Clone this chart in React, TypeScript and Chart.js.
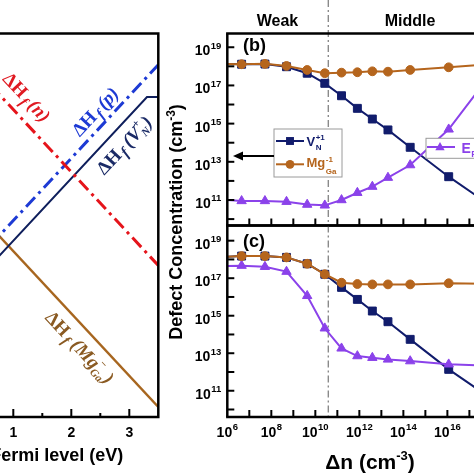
import React, { useEffect, useRef } from "react";
import { Chart, registerables } from "chart.js";

Chart.register(...registerables);

// ---------- Panel (a): formation enthalpy vs Fermi level (eV) ----------
const fermiEnds = [0, 3.5];
const dHfN = [5.93, 2.43];
const dHfP = [2.15, 5.65];
const fermiVN = [0, 3.305, 3.5];
const dHfVN = [1.826, 5.13, 5.13];
const dHfMg = [3.66, 0.16];
const fermiTicks = [0, 1, 2, 3];
const fermiMinorTicks = [0.5, 1.5, 2.5];

// ---------- Panels (b), (c): log10 concentration vs log10 Δn ----------
const logDn = [6.0, 6.65, 7.71, 8.69, 9.63, 10.43, 11.19, 11.91, 12.59, 13.3, 14.31, 16.06, 17.6];
const vnB = [18.12, 18.11, 18.12, 17.98, 17.64, 17.11, 16.46, 15.8, 15.24, 14.67, 13.76, 12.22, 11.0];
const mgB = [18.12, 18.11, 18.13, 18.02, 17.81, 17.64, 17.67, 17.69, 17.74, 17.72, 17.81, 17.95, 18.08];
const efB = [11.0, 10.95, 10.95, 10.91, 10.76, 10.72, 11.0, 11.38, 11.7, 12.17, 12.83, 14.7, 17.03];
const vnC = [18.15, 18.18, 18.18, 18.11, 17.77, 17.21, 16.51, 15.87, 15.25, 14.68, 13.74, 12.14, 10.9];
const mgC = [18.15, 18.18, 18.18, 18.11, 17.77, 17.21, 16.76, 16.69, 16.67, 16.67, 16.67, 16.73, 16.7];
const efC = [17.65, 17.67, 17.61, 17.35, 16.06, 14.33, 13.26, 12.85, 12.76, 12.67, 12.58, 12.41, 12.35];
const yTickLabelExps = [11, 13, 15, 17, 19];
const xTickLabelExps = [6, 8, 10, 12, 14, 16, 18];
const boundaryLogDn = 10.59;

const SANS = '"Liberation Sans", Arial, Helvetica, sans-serif';
const SERIF = '"Liberation Serif", "Times New Roman", serif';
const NAVY = "#111c6c";
const BROWN = "#b5651d";
const PURPLE = "#8b42ea";
const RED_A = "#e5141b";
const BLUE_A = "#1d3ad4";
const NAVY_A = "#0f1f5c";
const BROWN_A = "#a7661f";

const RIGHT_LEFT = 160; // page x of right canvases
const LEFT_LEFT = -60; // page x of left canvas

type Seg = { t: string; font: string; dy?: number; dx?: number; over?: string; overDy?: number; color?: string };

function richWidth(ctx: any, segs: Seg[]) {
  let w = 0;
  for (const s of segs) {
    ctx.font = s.font;
    let sw = ctx.measureText(s.t).width;
    if (s.over) sw = Math.max(sw, ctx.measureText(s.over).width);
    w += sw + (s.dx || 0);
  }
  return w;
}

function drawRich(ctx: any, segs: Seg[], x: number, y: number, align: string, color: string) {
  const w = richWidth(ctx, segs);
  let cx = align === "left" ? x : align === "center" ? x - w / 2 : x - w;
  ctx.textAlign = "left";
  ctx.textBaseline = "alphabetic";
  for (const s of segs) {
    ctx.font = s.font;
    ctx.fillStyle = s.color || color;
    cx += s.dx || 0;
    ctx.fillText(s.t, cx, y + (s.dy || 0));
    let sw = ctx.measureText(s.t).width;
    if (s.over) {
      ctx.fillText(s.over, cx, y + (s.overDy || 0));
      sw = Math.max(sw, ctx.measureText(s.over).width);
    }
    cx += sw;
  }
}

function drawMarker(ctx: any, style: string, x: number, y: number, r: number, color: string) {
  ctx.save();
  ctx.fillStyle = color;
  ctx.beginPath();
  if (style === "rect") {
    const s = r * Math.SQRT2;
    ctx.rect(x - s / 2, y - s / 2, s, s);
  } else if (style === "circle") {
    ctx.arc(x, y, r, 0, Math.PI * 2);
  } else {
    ctx.moveTo(x, y - r);
    ctx.lineTo(x + r * 0.866, y + r * 0.5);
    ctx.lineTo(x - r * 0.866, y + r * 0.5);
    ctx.closePath();
  }
  ctx.fill();
  ctx.restore();
}

function drawPow(ctx: any, exp: number, x: number, baseY: number, align: string) {
  const segs: Seg[] = [
    { t: "10", font: `bold 14px ${SANS}` },
    { t: String(exp), font: `bold 9.5px ${SANS}`, dy: -6.5, dx: 0.5 },
  ];
  drawRich(ctx, segs, x, baseY, align, "#000");
}

function line(ctx: any, x1: number, y1: number, x2: number, y2: number) {
  ctx.beginPath();
  ctx.moveTo(x1, y1);
  ctx.lineTo(x2, y2);
  ctx.stroke();
}

// ---------------- Left panel ----------------
const fB = (s: number) => `bold ${s}px ${SERIF}`;
const fBI = (s: number) => `italic bold ${s}px ${SERIF}`;
const hfSegs = (tail: Seg[]): Seg[] => [
  { t: "ΔH", font: fB(19) },
  { t: "f", font: fBI(15), dy: 4, dx: 2 },
  ...tail,
];
const leftLabels = [
  { E: 1.236, H: 5.131, angle: 0.822, color: "#e01a22", segs: hfSegs([{ t: "(n)", font: fBI(19), dx: 3 }]) },
  { E: 2.409, H: 4.899, angle: -0.822, color: "#1d3ad4", segs: hfSegs([{ t: "(p)", font: fBI(19), dx: 3 }]) },
  {
    E: 2.909, H: 4.362, angle: -0.822, color: "#1a2a66",
    segs: hfSegs([
      { t: "(V", font: fBI(19), dx: 4 },
      { t: "N", font: fBI(11), dy: 4, over: "+", overDy: -9 },
      { t: ")", font: fBI(19), dx: 1 },
    ]),
  },
  {
    E: 2.15, H: 1.118, angle: 0.822, color: "#8a5a22",
    segs: hfSegs([
      { t: "(Mg", font: fBI(19), dx: 4 },
      { t: "Ga", font: fBI(11), dy: 4, over: "−", overDy: -9 },
      { t: ")", font: fBI(19), dx: 1 },
    ]),
  },
];

const leftPlugin = {
  id: "leftFrame",
  afterDatasetsDraw(chart: any) {
    const { ctx, scales } = chart;
    for (const L of leftLabels) {
      const px = scales.x.getPixelForValue(L.E);
      const py = scales.y.getPixelForValue(L.H);
      ctx.save();
      ctx.translate(px, py);
      ctx.rotate(L.angle);
      drawRich(ctx, L.segs, 0, 6.5, "center", L.color);
      ctx.restore();
    }
  },
  afterDraw(chart: any) {
    const { ctx, chartArea: a, scales } = chart;
    ctx.save();
    ctx.strokeStyle = "#000";
    ctx.lineWidth = 2.5;
    ctx.strokeRect(a.left, a.top, a.right - a.left, a.bottom - a.top);
    ctx.lineWidth = 2;
    for (const t of fermiTicks) {
      const px = scales.x.getPixelForValue(t);
      line(ctx, px, a.bottom, px, a.bottom - 8);
    }
    for (const t of fermiMinorTicks) {
      const px = scales.x.getPixelForValue(t);
      line(ctx, px, a.bottom, px, a.bottom - 4);
    }
    ctx.fillStyle = "#000";
    ctx.font = `bold 14px ${SANS}`;
    ctx.textAlign = "center";
    ctx.textBaseline = "alphabetic";
    for (const t of fermiTicks) {
      ctx.fillText(String(t), scales.x.getPixelForValue(t), 436.5);
    }
    drawRich(ctx, [{ t: "Fermi level (eV)", font: `bold 18px ${SANS}` }], (a.left + a.right) / 2, 460.5, "center", "#000");
    ctx.restore();
  },
};

function leftConfig(): any {
  const pts = (xs: number[], ys: number[]) => xs.map((x, i) => ({ x, y: ys[i] }));
  const base = { pointRadius: 0, fill: false, tension: 0 };
  return {
    type: "line",
    data: {
      datasets: [
        { ...base, data: pts(fermiEnds, dHfN), borderColor: RED_A, borderWidth: 3, borderDash: [13, 5, 3, 5] },
        { ...base, data: pts(fermiEnds, dHfP), borderColor: BLUE_A, borderWidth: 3, borderDash: [13, 5, 3, 5] },
        { ...base, data: pts(fermiVN, dHfVN), borderColor: NAVY_A, borderWidth: 2 },
        { ...base, data: pts(fermiEnds, dHfMg), borderColor: BROWN_A, borderWidth: 2.5 },
      ],
    },
    options: {
      animation: false,
      responsive: false,
      events: [],
      layout: { padding: { left: 15.3, right: 11.7, top: 33.5, bottom: 57 } },
      plugins: { legend: { display: false }, tooltip: { enabled: false } },
      scales: {
        x: { type: "linear", min: 0, max: 3.5, display: false },
        y: { type: "linear", min: 0, max: 6.15, display: false },
      },
    },
    plugins: [leftPlugin],
  };
}

// ---------------- Right panels ----------------
function rightPlugin(panel: string) {
  const isB = panel === "b";
  const P = (x: number) => x - RIGHT_LEFT;
  return {
    id: "rightFrame" + panel,
    beforeDatasetsDraw(chart: any) {
      const { ctx, chartArea: a, scales } = chart;
      const bx = scales.x.getPixelForValue(10 ** boundaryLogDn);
      ctx.save();
      ctx.strokeStyle = "#8a8a8a";
      ctx.lineWidth = 1.4;
      ctx.setLineDash([7, 3, 2, 3]);
      line(ctx, bx, isB ? 0 : a.top, bx, a.bottom);
      ctx.setLineDash([]);
      if (isB) {
        ctx.fillStyle = "#000";
        ctx.font = `bold 16px ${SANS}`;
        ctx.textAlign = "center";
        ctx.textBaseline = "alphabetic";
        ctx.fillText("Weak", P(277.5), 26);
        ctx.fillText("Middle", P(410), 26);
        ctx.save();
        ctx.translate(P(181.5), 222);
        ctx.rotate(-Math.PI / 2);
        drawRich(
          ctx,
          [
            { t: "Defect Concentration (cm", font: `bold 18px ${SANS}` },
            { t: "-3", font: `bold 12px ${SANS}`, dy: -7 },
            { t: ")", font: `bold 18px ${SANS}` },
          ],
          0, 0, "center", "#000"
        );
        ctx.restore();
      } else {
        drawRich(
          ctx,
          [
            { t: "Δn (cm", font: `bold 21px ${SANS}` },
            { t: "-3", font: `bold 13px ${SANS}`, dy: -9 },
            { t: ")", font: `bold 21px ${SANS}` },
          ],
          P(370), 469, "center", "#000"
        );
      }
      ctx.restore();
    },
    afterDraw(chart: any) {
      const { ctx, chartArea: a, scales } = chart;
      const xs = scales.x;
      const ys = scales.y;
      ctx.save();
      ctx.strokeStyle = "#000";
      ctx.lineWidth = 2.5;
      line(ctx, a.left, a.top, a.left, a.bottom);
      line(ctx, a.left - 1.2, a.top, a.right, a.top);
      line(ctx, a.left - 1.2, a.bottom, a.right, a.bottom);
      ctx.lineWidth = 2;
      const yMinE = Math.ceil(Math.log10(ys.min));
      const yMaxE = Math.floor(Math.log10(ys.max));
      for (let e = yMinE; e <= yMaxE; e++) {
        const py = ys.getPixelForValue(10 ** e);
        line(ctx, a.left, py, a.left + 7, py);
      }
      for (let e = 7; e <= 18; e++) {
        const px = xs.getPixelForValue(10 ** e);
        line(ctx, px, a.bottom, px, a.bottom - 7);
      }
      for (const e of yTickLabelExps) {
        drawPow(ctx, e, a.left - 6, ys.getPixelForValue(10 ** e) + 8, "right");
      }
      if (!isB) {
        for (const e of xTickLabelExps) {
          drawPow(ctx, e, xs.getPixelForValue(10 ** e), 436.5, "center");
        }
      }
      // panel tag
      ctx.fillStyle = "#000";
      ctx.font = `bold 18px ${SANS}`;
      ctx.textAlign = "left";
      ctx.textBaseline = "alphabetic";
      ctx.fillText(isB ? "(b)" : "(c)", P(243), isB ? 50.5 : 247);

      if (isB) {
        // legend box for V_N and Mg_Ga
        ctx.fillStyle = "#fff";
        ctx.fillRect(P(274), 129, 68, 48);
        ctx.strokeStyle = "#9a9a9a";
        ctx.lineWidth = 1;
        ctx.strokeRect(P(274), 129, 68, 48);
        ctx.lineWidth = 2;
        ctx.strokeStyle = NAVY;
        line(ctx, P(276), 141, P(304), 141);
        drawMarker(ctx, "rect", P(290), 141, 5.6, NAVY);
        drawRich(ctx, [
          { t: "V", font: `bold 13px ${SANS}` },
          { t: "N", font: `bold 8px ${SANS}`, dy: 4.5, dx: 0.5, over: "+1", overDy: -5.5 },
        ], P(306.5), 145.5, "left", NAVY);
        ctx.strokeStyle = BROWN;
        line(ctx, P(276), 164.3, P(304), 164.3);
        drawMarker(ctx, "circle", P(290), 164.3, 4.4, BROWN);
        drawRich(ctx, [
          { t: "Mg", font: `bold 13px ${SANS}` },
          { t: "Ga", font: `bold 8px ${SANS}`, dy: 7, dx: 0.5, over: "-1", overDy: -5 },
        ], P(306.5), 167, "left", BROWN);
        // arrow to the left axis
        ctx.strokeStyle = "#000";
        ctx.fillStyle = "#000";
        ctx.lineWidth = 2;
        line(ctx, P(274), 156, P(241), 156);
        ctx.beginPath();
        ctx.moveTo(P(233), 156);
        ctx.lineTo(P(243), 151.5);
        ctx.lineTo(P(243), 160.5);
        ctx.closePath();
        ctx.fill();
        // legend box for E_F
        ctx.fillStyle = "#fff";
        ctx.fillRect(P(426), 138.3, 110, 20);
        ctx.strokeStyle = "#9a9a9a";
        ctx.lineWidth = 1;
        ctx.strokeRect(P(426), 138.3, 110, 20);
        ctx.strokeStyle = PURPLE;
        ctx.lineWidth = 2;
        line(ctx, P(427), 147, P(455), 147);
        drawMarker(ctx, "triangle", P(440), 147.5, 5.4, PURPLE);
        drawRich(ctx, [
          { t: "E", font: `bold 14px ${SANS}` },
          { t: "F", font: `bold 9px ${SANS}`, dy: 3.5, dx: 0.5 },
        ], P(461.5), 153.3, "left", PURPLE);
      }
      ctx.restore();
    },
  };
}

function rightConfig(panel: string): any {
  const isB = panel === "b";
  const vn = isB ? vnB : vnC;
  const mg = isB ? mgB : mgC;
  const ef = isB ? efB : efC;
  const yMin = isB ? 9.664 : 9.6;
  const yMax = isB ? 19.72 : 19.81;
  const ds = (ys: number[], color: string, style: string, r: number) => ({
    data: logDn.map((e, i) => ({ x: 10 ** e, y: 10 ** ys[i] })),
    borderColor: color,
    backgroundColor: color,
    borderWidth: 2,
    pointStyle: style,
    pointRadius: logDn.map((_, i) => (i === 0 ? 0 : r)),
    pointBorderWidth: 1,
    pointBackgroundColor: color,
    pointBorderColor: color,
    tension: 0,
    fill: false,
  });
  return {
    type: "line",
    data: {
      datasets: [
        ds(mg, BROWN, "circle", 4.4),
        ds(ef, PURPLE, "triangle", 5.4),
        ds(vn, NAVY, "rect", 5.6),
      ],
    },
    options: {
      animation: false,
      responsive: false,
      events: [],
      layout: {
        padding: { left: 67.3, right: 5.8, top: isB ? 33.5 : 225.5, bottom: isB ? 474 - 225.5 : 57 },
      },
      plugins: { legend: { display: false }, tooltip: { enabled: false } },
      scales: {
        x: { type: "logarithmic", min: 1e6, max: 1e19, display: false },
        y: { type: "logarithmic", min: 10 ** yMin, max: 10 ** yMax, display: false },
      },
    },
    plugins: [rightPlugin(panel)],
  };
}

export default function App() {
  const leftRef = useRef<HTMLCanvasElement>(null);
  const bRef = useRef<HTMLCanvasElement>(null);
  const cRef = useRef<HTMLCanvasElement>(null);

  useEffect(() => {
    const charts = [
      new Chart(leftRef.current as HTMLCanvasElement, leftConfig()),
      new Chart(bRef.current as HTMLCanvasElement, rightConfig("b")),
      new Chart(cRef.current as HTMLCanvasElement, rightConfig("c")),
    ];
    return () => charts.forEach((c) => c.destroy());
  }, []);

  const cs = (left: number, width: number): React.CSSProperties => ({
    position: "absolute",
    left,
    top: 0,
    width,
    height: 474,
  });

  return (
    <div
      style={{
        position: "fixed",
        left: 0,
        top: 0,
        width: 474,
        height: 474,
        overflow: "hidden",
        background: "#fff",
      }}
    >
      <canvas ref={leftRef} width={230} height={474} style={cs(LEFT_LEFT, 230)} />
      <canvas ref={bRef} width={360} height={474} style={cs(RIGHT_LEFT, 360)} />
      <canvas ref={cRef} width={360} height={474} style={cs(RIGHT_LEFT, 360)} />
    </div>
  );
}
